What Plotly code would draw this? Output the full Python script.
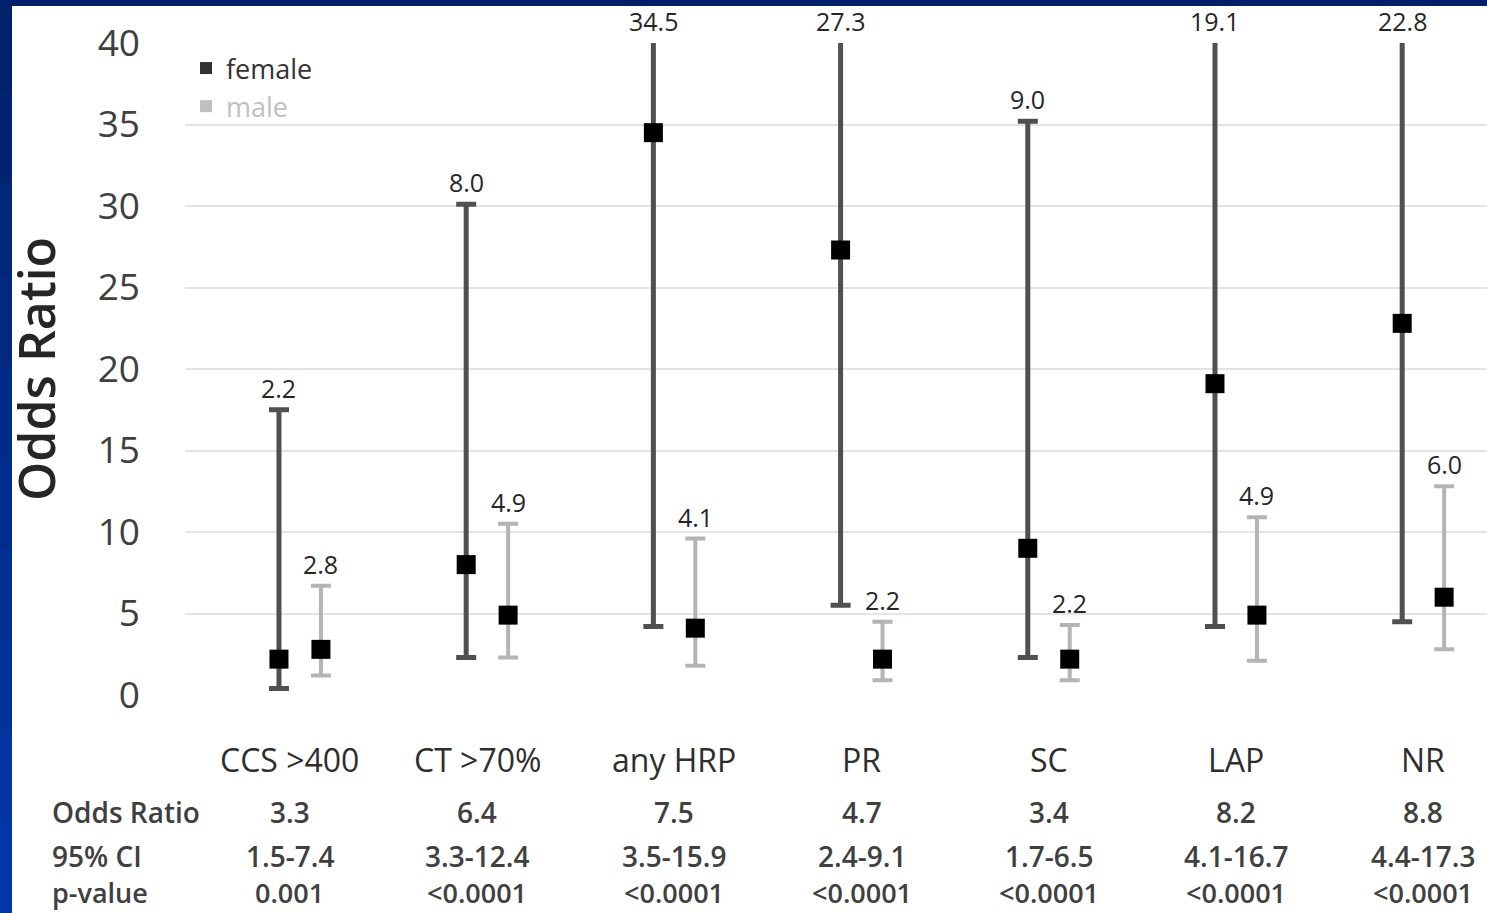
import plotly.graph_objects as go

# ---------------- data ----------------
categories = ["CCS >400", "CT >70%", "any HRP", "PR", "SC", "LAP", "NR"]

female_or = [2.2, 8.0, 34.5, 27.3, 9.0, 19.1, 22.8]
female_lo = [0.4, 2.3, 4.2, 5.5, 2.3, 4.2, 4.5]
# upper limits of these bars run past the top of the axis (clipped at 40)
female_hi = [17.5, 30.1, 48.0, 48.0, 35.2, 48.0, 48.0]

male_or = [2.8, 4.9, 4.1, 2.2, 2.2, 4.9, 6.0]
male_lo = [1.2, 2.3, 1.8, 0.9, 0.9, 2.1, 2.8]
male_hi = [6.7, 10.5, 9.6, 4.5, 4.3, 10.9, 12.8]

table_or = ["3.3", "6.4", "7.5", "4.7", "3.4", "8.2", "8.8"]
table_ci = ["1.5-7.4", "3.3-12.4", "3.5-15.9", "2.4-9.1", "1.7-6.5", "4.1-16.7", "4.4-17.3"]
table_p = ["0.001", "<0.0001", "<0.0001", "<0.0001", "<0.0001", "<0.0001", "<0.0001"]
row_labels = ["Odds Ratio", "95% CI", "p-value"]

y_ticks = [0, 5, 10, 15, 20, 25, 30, 35, 40]

# ---------------- layout constants ----------------
W, H = 1487, 913
ML, MR, MT, MB = 185, 0, 43, 218
PW, PH = W - ML - MR, H - MT - MB
FONT = "Open Sans"
YMAX = 40
OFF = 0.112
FEM_COL = "#505050"
MALE_COL = "#b4b4b4"

x_idx = list(range(len(categories)))
xf = [i - OFF for i in x_idx]
xm = [i + OFF for i in x_idx]

fig = go.Figure()

fig.add_trace(go.Scatter(
    x=xf, y=female_or, mode="markers", showlegend=False,
    marker=dict(symbol="square", size=19, color="black"),
    error_y=dict(type="data", symmetric=False,
                 array=[h - p for h, p in zip(female_hi, female_or)],
                 arrayminus=[p - l for p, l in zip(female_or, female_lo)],
                 color=FEM_COL, thickness=5, width=10),
    cliponaxis=True,
))
fig.add_trace(go.Scatter(
    x=xm, y=male_or, mode="markers", showlegend=False,
    marker=dict(symbol="square", size=19, color="black"),
    error_y=dict(type="data", symmetric=False,
                 array=[h - p for h, p in zip(male_hi, male_or)],
                 arrayminus=[p - l for p, l in zip(male_or, male_lo)],
                 color=MALE_COL, thickness=4, width=10),
    cliponaxis=True,
))
# legend entries
fig.add_trace(go.Scatter(x=[None], y=[None], mode="markers", name="female",
                         marker=dict(symbol="square", size=12, color="#333333")))
fig.add_trace(go.Scatter(x=[None], y=[None], mode="markers",
                         name="<span style='color:#c0c0c0'>male</span>",
                         marker=dict(symbol="square", size=12, color="#c0c0c0")))

ann = []
# value labels above the upper CI limits
for xs, vals, his in ((xf, female_or, female_hi), (xm, male_or, male_hi)):
    for x, v, h in zip(xs, vals, his):
        ann.append(dict(x=x, y=min(h, YMAX), xref="x", yref="y",
                        text=f"{v:.1f}", showarrow=False, yanchor="bottom",
                        yshift=3,
                        font=dict(family=FONT, size=25, color="#262626")))

# category labels and table
ROW_Y = [-117, -161, -197]
rows = [(categories, -64, 32, "#2e2e2e", 500), (table_or, ROW_Y[0], 28, "#404040", 600),
        (table_ci, ROW_Y[1], 28, "#404040", 600), (table_p, ROW_Y[2], 27, "#404040", 600)]
for texts, ys, fs, col, wt in rows:
    for i, t in enumerate(texts):
        ann.append(dict(x=i, y=0, xref="x", yref="y", text=t, showarrow=False,
                        yanchor="middle", yshift=ys, xshift=-10 if i < 2 else 0,
                        font=dict(family=FONT, size=fs, color=col, weight=wt)))
for lab, ys, fs in zip(row_labels, ROW_Y, [28, 28, 27]):
    ann.append(dict(x=(50 - ML) / PW, y=0, xref="paper", yref="y", text=lab,
                    showarrow=False, xanchor="left", yanchor="middle", yshift=ys,
                    font=dict(family=FONT, size=fs, color="#404040", weight=600)))

# y axis title
ann.append(dict(x=(36 - ML) / PW, y=0.5, xref="paper", yref="paper",
                text="Odds Ratio", textangle=-90, showarrow=False,
                xanchor="center", yanchor="middle",
                font=dict(family=FONT, size=50, color="#262626", weight=600)))

# blue frame (top band and left band)
shapes = []
def px_x(p):
    return (p - ML) / PW
def px_y(p):
    return (H - MB - p) / PH
shapes.append(dict(type="rect", xref="paper", yref="paper",
                   x0=px_x(0), x1=px_x(W), y0=px_y(6), y1=px_y(0),
                   fillcolor="#00206a", line=dict(width=0), layer="below"))
n = 10
c0 = (0x00, 0x22, 0x6a)
c1 = (0x00, 0x36, 0xa8)
for k in range(n):
    t = k / (n - 1)
    col = "rgb(%d,%d,%d)" % tuple(round(a + (b - a) * t) for a, b in zip(c0, c1))
    shapes.append(dict(type="rect", xref="paper", yref="paper",
                       x0=px_x(0), x1=px_x(12),
                       y0=px_y(H * (k + 1) / n + 1), y1=px_y(H * k / n),
                       fillcolor=col, line=dict(width=0), layer="below"))

fig.update_layout(
    width=W, height=H,
    margin=dict(l=ML, r=MR, t=MT, b=MB, pad=0),
    paper_bgcolor="white", plot_bgcolor="white",
    xaxis=dict(range=[-0.614, 6.341], showgrid=False, zeroline=False,
               showticklabels=False, showline=False, fixedrange=True),
    yaxis=dict(range=[0, YMAX], tickvals=y_ticks, showgrid=True,
               gridcolor="#e4e4e4", gridwidth=2, zeroline=False, showline=False,
               ticklabelstandoff=44,
               tickfont=dict(family=FONT, size=37, color="#404040")),
    legend=dict(x=px_x(186), y=px_y(44), xanchor="left", yanchor="top",
                bgcolor="rgba(0,0,0,0)",
                font=dict(family=FONT, size=27, color="#333333", weight=500),
                tracegroupgap=0, itemwidth=30),
    annotations=ann, shapes=shapes,
)

fig.write_html("out.html")
